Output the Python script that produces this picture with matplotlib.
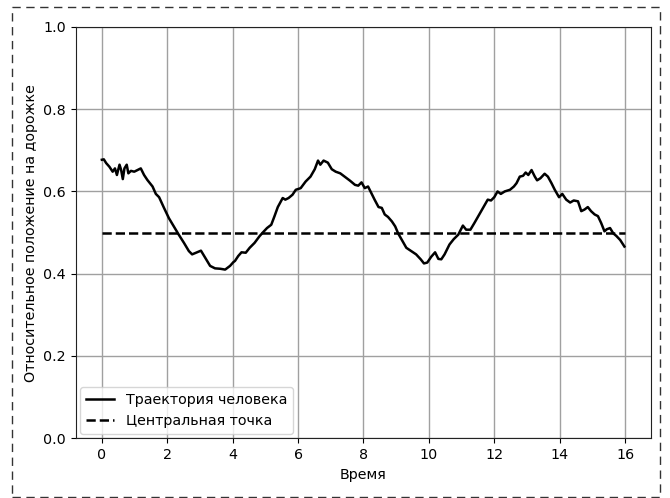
import matplotlib
matplotlib.use("Agg")
import matplotlib.pyplot as plt
from matplotlib.patches import Rectangle

time_pts = [0.00, 0.06, 0.13, 0.23, 0.33, 0.40, 0.46, 0.54, 0.59, 0.64, 0.69, 0.76, 0.81, 0.89,
            0.99, 1.09, 1.19, 1.29, 1.39, 1.55, 1.65, 1.75, 1.90, 2.05, 2.20, 2.35, 2.51, 2.66,
            2.76, 2.91, 3.03, 3.16, 3.31, 3.46, 3.62, 3.77, 3.92, 4.02,
            4.07, 4.17, 4.27, 4.40, 4.52, 4.67, 4.82, 4.92, 5.05, 5.18, 5.28, 5.38, 5.53, 5.61,
            5.71, 5.83, 5.93, 6.08, 6.23, 6.38, 6.51, 6.61, 6.68, 6.78, 6.91, 7.03, 7.15, 7.29,
            7.44, 7.59, 7.74, 7.84, 7.94, 8.04,
            8.14, 8.24, 8.34, 8.46, 8.56, 8.65, 8.75, 8.87, 8.97, 9.06, 9.18, 9.31, 9.46, 9.61,
            9.75, 9.85, 9.95, 10.07, 10.19, 10.29, 10.38, 10.48, 10.63, 10.76, 10.90, 11.04,
            11.14, 11.27, 11.39, 11.54, 11.68, 11.80, 11.90, 12.00, 12.10, 12.20,
            12.32, 12.48, 12.60, 12.68, 12.78, 12.88, 12.96, 13.04, 13.14, 13.24, 13.31, 13.41,
            13.54, 13.64, 13.75, 13.85, 13.98, 14.08, 14.20, 14.32, 14.43, 14.56, 14.66, 14.76,
            14.86, 14.96, 15.07, 15.17, 15.27, 15.37, 15.44, 15.54, 15.64, 15.73, 15.85, 15.98]

position = [0.677, 0.678, 0.669, 0.660, 0.648, 0.656, 0.640, 0.665, 0.652, 0.630, 0.656, 0.665, 0.644, 0.650,
            0.648, 0.652, 0.656, 0.640, 0.628, 0.612, 0.594, 0.586, 0.560, 0.535, 0.515, 0.495, 0.475, 0.455,
            0.447, 0.452, 0.456, 0.439, 0.419, 0.413, 0.412, 0.410, 0.419, 0.428,
            0.431, 0.443, 0.452, 0.451, 0.463, 0.475, 0.491, 0.500, 0.511, 0.519, 0.540, 0.562, 0.584, 0.580,
            0.584, 0.592, 0.604, 0.608, 0.624, 0.636, 0.654, 0.675, 0.665, 0.675, 0.670, 0.654, 0.648, 0.644,
            0.635, 0.626, 0.616, 0.614, 0.622, 0.608,
            0.612, 0.596, 0.580, 0.562, 0.560, 0.544, 0.538, 0.527, 0.515, 0.498, 0.481, 0.463, 0.455, 0.447,
            0.435, 0.425, 0.427, 0.441, 0.452, 0.436, 0.435, 0.447, 0.471, 0.484, 0.495, 0.517,
            0.507, 0.507, 0.523, 0.544, 0.564, 0.580, 0.578, 0.586, 0.600, 0.594,
            0.600, 0.604, 0.612, 0.620, 0.636, 0.638, 0.646, 0.640, 0.652, 0.636, 0.627, 0.632,
            0.643, 0.636, 0.620, 0.604, 0.586, 0.594, 0.580, 0.573, 0.578, 0.576, 0.552, 0.556,
            0.562, 0.552, 0.544, 0.540, 0.523, 0.503, 0.508, 0.511, 0.498, 0.492, 0.482, 0.466]

center_value = 0.5
center_time = [0, 16]
x_ticks = [0, 2, 4, 6, 8, 10, 12, 14, 16]
y_ticks = [0.0, 0.2, 0.4, 0.6, 0.8, 1.0]

plt.rcParams['font.size'] = 10.3

fig = plt.figure(figsize=(6.7, 4.98), dpi=100)
ax = fig.add_axes([0.113, 0.120, 0.859, 0.826])

ax.plot(time_pts, position, color='black', linewidth=1.8, label='Траектория человека')
ax.plot(center_time, [center_value, center_value], color='black', linestyle='--',
        linewidth=1.8, label='Центральная точка')

ax.set_xlim(-0.8, 16.8)
ax.set_ylim(0, 1)
ax.set_xticks(x_ticks)
ax.set_yticks(y_ticks)
ax.grid(True, color='#a0a0a0', linewidth=1.0)
ax.set_axisbelow(True)
for sp in ax.spines.values():
    sp.set_color('#222222')
ax.set_xlabel('Время')
ax.set_ylabel('Относительное положение на дорожке')
ax.legend(loc='lower left', borderaxespad=0.3)

fig.patches.append(Rectangle((0.018, 0.003), 0.967, 0.983, transform=fig.transFigure,
                             fill=False, edgecolor='#333333', linestyle=(0, (6, 4)),
                             linewidth=1.0))

fig.savefig('out.png', dpi=100)
